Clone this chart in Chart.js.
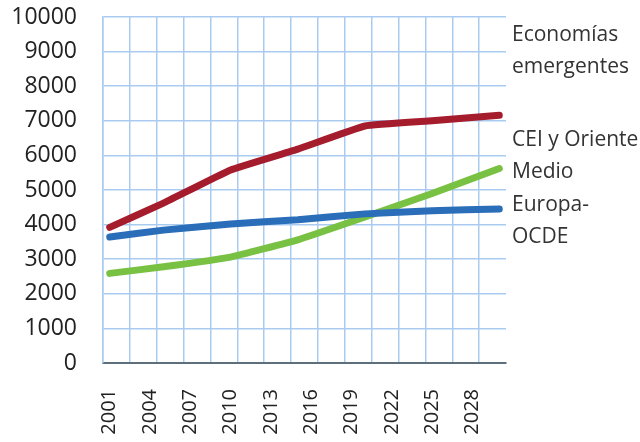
<!DOCTYPE html>
<html>
<head>
<meta charset="utf-8">
<script src="https://cdn.jsdelivr.net/npm/chart.js@4/dist/chart.umd.min.js"></script>
<style>
  html, body { margin: 0; padding: 0; background: #fff; }
  #wrap { width: 640px; height: 442px; }
</style>
</head>
<body>
<div id="wrap"><canvas id="c" width="640" height="442"></canvas></div>
<script>
// Years on the category axis, 2001..2030
const years = [];
for (let y = 2001; y <= 2030; y++) years.push(String(y));

// values read at a few years; the line runs straight between them
const redYears   = ["2001", "2005", "2010", "2015", "2020", "2025", "2030"];
const redValues  = [3920, 4620, 5580, 6180, 6850, 7000, 7160];
const blueYears  = ["2001", "2005", "2010", "2015", "2020", "2025", "2030"];
const blueValues = [3640, 3840, 4020, 4140, 4310, 4400, 4450];
const greenYears  = ["2001", "2005", "2010", "2015", "2020", "2025", "2030"];
const greenValues = [2590, 2780, 3060, 3560, 4220, 4900, 5620];

// right-hand captions
const captions = [
  { lines: ["Economías", "emergentes"], y: 35 },
  { lines: ["CEI y Oriente", "Medio"], y: 140 },
  { lines: ["Europa-", "OCDE"], y: 205 },
];

const pts = (xs, vs) => xs.map((x, i) => ({ x, y: vs[i] }));

const GRID = "#a9cbef";
const FONT = "'Open Sans', 'DejaVu Sans', sans-serif";

const captionPlugin = {
  id: "captions",
  afterDraw(chart) {
    const ctx = chart.ctx;
    ctx.save();
    ctx.fillStyle = "#333";
    ctx.font = "21px " + FONT;
    ctx.textAlign = "left";
    ctx.textBaseline = "middle";
    captions.forEach((c) => {
      c.lines.forEach((t, i) => ctx.fillText(t, 512, c.y + i * 32));
    });
    ctx.restore();
  },
};

const line = (data, color) => ({
  data,
  borderColor: color,
  borderWidth: 7,
  borderCapStyle: "round",
  borderJoinStyle: "round",
  pointRadius: 0,
  tension: 0.1,
  spanGaps: true,
});

new Chart(document.getElementById("c"), {
  type: "line",
  data: {
    labels: years,
    datasets: [
      line(pts(redYears, redValues), "#a51d2d"),
      line(pts(blueYears, blueValues), "#2a6db8"),
      line(pts(greenYears, greenValues), "#79c143"),
    ],
  },
  options: {
    responsive: false,
    animation: false,
    layout: { padding: { top: 17, right: 134, bottom: 0, left: 0 } },
    plugins: { legend: { display: false }, tooltip: { enabled: false } },
    scales: {
      x: {
        type: "category",
        offset: true,
        afterFit: (s) => { s.height = 79; },
        grid: {
          offset: true,
          drawTicks: false,
          lineWidth: 1.5,
          color: (ctx) => (ctx.index % 2 === 0 ? GRID : "rgba(0,0,0,0)"),
        },
        border: { color: "#5d6f7c", width: 2 },
        ticks: {
          autoSkip: false,
          minRotation: 90,
          maxRotation: 90,
          padding: 26,
          color: "#222",
          font: { family: FONT, size: 20 },
          callback: (v, i) => (i % 3 === 0 ? years[i] : ""),
        },
      },
      y: {
        min: 0,
        max: 10000,
        afterFit: (s) => { s.width = 103; },
        // invisible tick marks keep the labels away from the axis
        grid: { drawTicks: true, tickLength: 24, tickColor: "rgba(0,0,0,0)", color: GRID, lineWidth: 1.5 },
        border: { color: GRID, width: 1.5 },
        ticks: {
          stepSize: 1000,
          padding: 2,
          color: "#222",
          font: { family: FONT, size: 23 },
          callback: (v) => String(v),
        },
      },
    },
  },
  plugins: [captionPlugin],
});
</script>
</body>
</html>
